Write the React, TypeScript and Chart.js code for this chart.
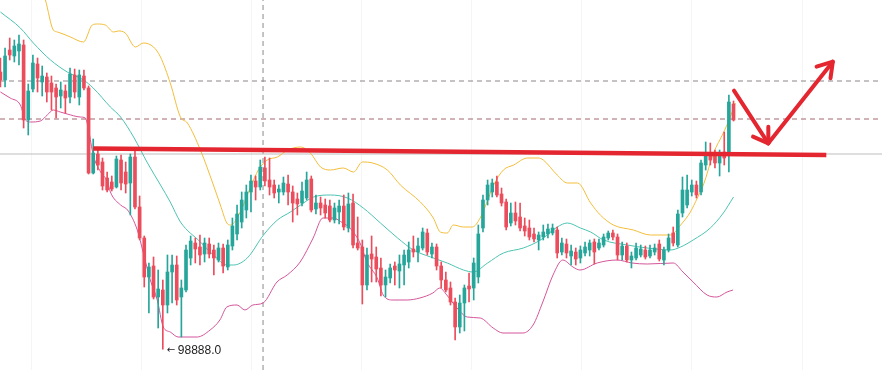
import React, { useEffect, useRef } from "react";
import { Chart, registerables } from "chart.js";

Chart.register(...registerables);

// ---- candle data (index = bar number) ----
const candleOpen = [101660,101580,101880,101820,101870,101930,101180,101490,101740,101560,
101610,101550,101500,101420,101470,101410,101630,101410,101620,101500,
100650,100840,100760,100600,100560,100510,100780,100660,100550,100810,
100310,100000,99610,99720,99410,99480,99330,99660,99730,99410,
99480,99800,99950,99910,99840,99940,99880,99780,99900,99710,
99920,100040,100160,100280,100460,100570,100510,100700,100580,100530,
100460,100460,100540,100460,100390,100350,100400,100590,100290,100350,
100330,100320,100180,100260,100320,100100,100350,99950,99910,99530,
99840,99810,99700,99530,99600,99720,99670,99730,99760,99890,
99860,99900,100050,99840,99910,99720,99580,99500,99360,99110,
99350,99520,99500,99610,100100,100380,100460,100560,100440,100360,
100150,100250,100210,100120,100100,100040,99980,100010,100040,100050,
100080,99860,99940,99820,99860,99800,99850,99880,99960,99900,
99930,100000,100050,100010,99830,99920,99780,99800,99830,99880,
99820,99860,99940,99780,99880,100050,99930,100250,100330,100460,
100530,100460,100730,100850,100820,100750,100860,100850,101340];

const candleClose = [101580,101820,101830,101920,101940,101180,101470,101750,101600,101620,
101460,101460,101410,101480,101400,101640,101460,101630,101500,100650,
100850,100730,100520,100480,100490,100790,100550,100540,100810,100310,
100000,99610,99710,99410,99490,99330,99660,99730,99380,99500,
99880,99970,99890,99830,99950,99840,99800,99900,99720,99930,
100120,100240,100380,100460,100570,100510,100710,100570,100510,100450,
100490,100550,100460,100350,100340,100470,100580,100280,100350,100300,
100250,100180,100300,100320,100110,100340,99930,99900,99530,99830,
99790,99690,99530,99610,99700,99680,99740,99830,99880,99860,
99920,100060,99860,99910,99720,99580,99480,99360,99110,99350,
99500,99490,99750,100040,100380,100530,100550,100430,100350,100110,
100250,100170,100100,100070,100010,99990,100030,100060,100090,100100,
99850,99950,99850,99870,99790,99880,99910,99950,99860,99950,
100010,100050,100010,99830,99920,99780,99820,99900,99890,99810,
99880,99900,99790,99880,100000,99950,100240,100480,100480,100530,
100430,100750,100830,100780,100750,100830,100800,101360,101180];

const candleHigh = [101800,101900,102000,101980,102030,101980,101540,101830,101800,101720,
101650,101620,101540,101560,101530,101700,101690,101680,101680,101520,
100990,100900,100800,100660,100620,100820,100830,100760,100840,100870,
100420,100020,99750,99810,99680,99580,99830,99830,99820,99580,
99930,100020,100000,100030,100000,100000,99930,99950,99940,99980,
100200,100330,100460,100530,100630,100620,100780,100810,100800,100580,
100530,100610,100630,100520,100450,100560,100660,100620,100430,100410,
100390,100380,100350,100380,100430,100450,100440,100210,99980,99900,
100020,99910,99800,99680,99740,99760,99830,99880,99960,100020,
100000,100100,100090,99950,99940,99760,99660,99560,99400,99430,
99530,99650,99800,100130,100430,100580,100590,100620,100500,100390,
100350,100360,100350,100200,100180,100100,100060,100130,100140,100140,
100110,100000,99990,99930,99900,99920,99960,99980,99990,99990,
100040,100070,100080,100040,99960,99950,99860,99950,99930,99920,
99930,99940,99980,99910,100040,100110,100280,100610,100630,100580,
100570,100780,100960,100950,100880,100880,101060,101430,101370];

const candleLow = [101510,101510,101780,101760,101730,101100,101030,101460,101460,101420,
101360,101280,101200,101300,101250,101350,101400,101330,101480,100640,
100640,100680,100480,100460,100470,100500,100480,100450,100230,100290,
99980,99510,99250,99390,99100,98888,99250,99350,99330,99010,
99460,99730,99750,99730,99760,99800,99630,99760,99650,99680,
99880,99980,100100,100200,100260,100380,100480,100520,100430,100400,
100350,100430,100330,100160,100230,100320,100380,100260,100240,100230,
100200,100160,100150,100140,100080,100060,99900,99880,99340,99480,
99560,99560,99420,99410,99550,99530,99500,99530,99700,99810,
99760,99880,99830,99800,99680,99500,99460,99330,98980,99050,
99070,99360,99380,99550,100060,100330,100410,100410,100320,100080,
100120,100130,100070,100020,99980,99960,99880,99980,100000,100030,
99800,99830,99800,99730,99730,99750,99820,99820,99740,99880,
99910,99980,99980,99780,99780,99760,99700,99780,99810,99790,
99800,99830,99770,99730,99860,99920,99910,100210,100300,100420,
100400,100430,100680,100730,100700,100620,100730,100660,101170];

// ---- Bollinger bands (position in bar units, value) ----
const upperBandX = [8.6,9.7,11.4,12.3,15.1,17.9,19.8,20.9,22.6,24.4,25.4,26.9,29.1,30.8,33.0,34.5,36.6,38.8,40.3,43.1,
45.9,47.4,48.8,49.6,51.7,53.9,55.6,57.5,59.7,61.9,64.7,66.8,69.0,71.1,73.9,76.1,78.0,80.2,83.4,86.2,
90.5,93.3,94.8,96.3,97.6,99.8,101.7,103.4,105.2,106.3,108.4,110.6,113.6,115.9,117.0,120.0,122.2,124.4,127.2,129.3,
132.1,136.4,140.1,144.4,146.6,148.7,150.2,151.5,153.7,155.8,157.3,158.4];
const upperBandVal = [102530,102380,102080,102060,102010,101960,102130,102140,102130,102060,102070,102050,101910,101950,101910,101810,101550,101210,101150,100880,
100530,100330,100150,100130,100260,100510,100680,100780,100810,100880,100910,100850,100710,100680,100700,100660,100760,100750,100680,100530,
100360,100200,100060,100050,100130,100110,100110,100200,100400,100530,100680,100730,100800,100800,100780,100630,100550,100550,100350,100230,
100130,100080,100030,100030,100130,100260,100400,100530,100850,101050,101210,101350];

const middleBandX = [0,4.3,7.1,10.8,14.4,17.9,20.0,23.7,25.9,28.7,31.7,34.5,36.6,38.8,43.1,45.9,48.9,50.2,53.2,56.7,
59.7,62.5,64.7,67.5,71.1,74.8,78.2,81.9,85.6,89.0,92.7,96.3,99.8,101.9,105.0,108.4,112.7,116.4,120.0,122.2,
125.0,127.2,130.0,135.1,139.4,144.4,146.6,149.3,153.0,155.8,158.0];
const middleBandVal = [102260,102100,101950,101780,101660,101580,101500,101310,101210,101010,100750,100530,100360,100160,99960,99830,99730,99730,99800,100030,
100180,100260,100330,100410,100430,100400,100300,100150,100000,99880,99810,99750,99680,99660,99750,99850,99900,99980,100110,100150,
100100,100060,99980,99930,99900,99880,99910,99980,100100,100250,100410];

const lowerBandX = [0,2.1,4.3,5.4,6.5,8.6,10.1,11.4,12.9,14.4,17.2,18.3,19.0,20.0,21.6,23.1,23.7,25.9,27.4,29.5,
30.8,32.3,33.8,35.1,36.6,38.3,42.4,45.2,47.3,48.8,51.0,52.7,54.4,56.6,59.6,61.8,64.6,67.4,69.5,71.7,
73.8,75.3,77.5,79.0,81.2,82.5,84.6,87.6,90.4,93.2,94.7,96.2,98.4,100.6,103.4,106.2,108.3,112.6,114.8,116.9,
119.1,121.2,123.4,124.9,128.6,132.9,136.1,139.4,145.0,147.1,149.3,152.3,154.4,156.6,157.9];
const lowerBandVal = [101460,101400,101330,101180,101160,101170,101230,101280,101260,101240,101210,101200,101080,100830,100660,100560,100460,100330,100280,100080,
99850,99580,99380,99110,99060,99010,99010,99080,99180,99310,99330,99280,99330,99350,99560,99630,99760,100000,100200,100200,
100150,100100,99950,99760,99600,99430,99380,99380,99400,99450,99500,99430,99300,99210,99200,99100,99050,99050,99130,99360,
99630,99780,99710,99680,99750,99780,99750,99740,99750,99660,99560,99430,99410,99460,99480];

// ---- reference levels and drawings ----
const dashedLevels = [101570, 101190];
const solidLevel = 100840;
const verticalMarkerX = 56.6;
const gridLinesX = [6.8, 30.5, 54.2, 77.9, 101.6, 125.3, 149.0, 172.8];
const resistanceLine = [[20.0, 100895], [178.0, 100830]];
const arrowPaths = [
  [[158.1, 101473], [165.5, 100947]],
  [[162.2, 101013], [165.5, 100947], [165.5, 101113]],
  [[165.5, 100947], [179.4, 101763]],
  [[175.9, 101713], [179.4, 101763], [178.9, 101597]],
];

const X_MIN = -0.09;
const X_MAX = 190.0;
const Y_MIN = 98680;
const Y_MAX = 102380;

const GREEN = "#26a69a";
const RED = "#eb4d5c";

export default function App() {
  const ref = useRef<HTMLCanvasElement>(null);

  useEffect(() => {
    const canvas = ref.current;
    if (!canvas) return;
    const idx = candleOpen.map((_, i) => i);
    const colors = idx.map((i) => (candleClose[i] >= candleOpen[i] ? GREEN : RED));

    const toPts = (xs: number[], ys: number[]) => xs.map((x, i) => ({ x, y: ys[i] }));

    const lowLabel = {
      id: "lowLabel",
      afterDatasetsDraw(chart: any) {
        let mi = 0;
        candleLow.forEach((v, i) => {
          if (v < candleLow[mi]) mi = i;
        });
        const x = chart.scales.x.getPixelForValue(mi);
        const y = chart.scales.y.getPixelForValue(candleLow[mi]);
        const c = chart.ctx;
        c.save();
        c.fillStyle = "#222";
        c.textAlign = "left";
        c.textBaseline = "middle";
        c.font = '10px "DejaVu Sans", sans-serif';
        c.fillText("\u2190", x + 4, y + 1);
        c.font = '12px "Liberation Sans", Arial, sans-serif';
        c.fillText(candleLow[mi].toFixed(1), x + 15, y + 1);
        c.restore();
      },
    };

    const lineBase = {
      type: "line" as const,
      pointRadius: 0,
      fill: false,
      borderWidth: 1,
    };

    const datasets: any[] = [];

    arrowPaths.forEach((p) => {
      datasets.push({
        ...lineBase,
        data: p.map(([x, y]) => ({ x, y })),
        borderColor: "#e3262f",
        borderWidth: 4,
        borderCapStyle: "round",
        borderJoinStyle: "round",
        order: 0,
      });
    });
    datasets.push({
      ...lineBase,
      data: resistanceLine.map(([x, y]) => ({ x, y })),
      borderColor: "#e3262f",
      borderWidth: 4.5,
      order: 0,
    });
    datasets.push({
      type: "bar",
      data: idx.map((i) => ({ x: i, y: [candleOpen[i], candleClose[i]] })),
      backgroundColor: colors,
      borderWidth: 0,
      barThickness: 3,
      minBarLength: 1,
      grouped: false,
      order: 1,
    });
    datasets.push({
      type: "bar",
      data: idx.map((i) => ({ x: i, y: [candleLow[i], candleHigh[i]] })),
      backgroundColor: colors,
      borderWidth: 0,
      barThickness: 1,
      grouped: false,
      order: 2,
    });
    datasets.push({
      ...lineBase,
      data: toPts(upperBandX, upperBandVal),
      borderColor: "#f3bd3a",
      cubicInterpolationMode: "monotone",
      order: 3,
    });
    datasets.push({
      ...lineBase,
      data: toPts(middleBandX, middleBandVal),
      borderColor: "#4cc3b2",
      cubicInterpolationMode: "monotone",
      order: 3,
    });
    datasets.push({
      ...lineBase,
      data: toPts(lowerBandX, lowerBandVal),
      borderColor: "#d4559a",
      cubicInterpolationMode: "monotone",
      order: 3,
    });
    dashedLevels.forEach((lv, i) => {
      datasets.push({
        ...lineBase,
        data: [
          { x: X_MIN, y: lv },
          { x: X_MAX, y: lv },
        ],
        borderColor: i === 0 ? "#8e8488" : "#a2646e",
        borderDash: [5, 4],
        order: 4,
      });
    });
    datasets.push({
      ...lineBase,
      data: [
        { x: X_MIN, y: solidLevel },
        { x: X_MAX, y: solidLevel },
      ],
      borderColor: "#bdbdbd",
      order: 4,
    });
    datasets.push({
      ...lineBase,
      data: [
        { x: verticalMarkerX, y: Y_MIN },
        { x: verticalMarkerX, y: Y_MAX },
      ],
      borderColor: "#8a8a8a",
      borderDash: [5, 4],
      order: 4,
    });

    const chart = new Chart(canvas, {
      type: "bar",
      data: { datasets },
      options: {
        animation: false,
        responsive: false,
        devicePixelRatio: 1,
        layout: { padding: 0 },
        plugins: {
          legend: { display: false },
          tooltip: { enabled: false },
        },
        scales: {
          x: {
            type: "linear",
            min: X_MIN,
            max: X_MAX,
            offset: false,
            display: true,
            grid: { color: "#f5f5f5", drawTicks: false, offset: false },
            border: { display: false },
            ticks: { display: false },
            afterBuildTicks: (s: any) => {
              s.ticks = gridLinesX.map((v) => ({ value: v }));
            },
          },
          y: {
            type: "linear",
            min: Y_MIN,
            max: Y_MAX,
            display: false,
          },
        },
      } as any,
      plugins: [lowLabel],
    });
    return () => chart.destroy();
  }, []);

  return (
    <div
      style={{
        position: "fixed",
        left: 0,
        top: 0,
        width: 882,
        height: 370,
        background: "#fff",
      }}
    >
      <canvas ref={ref} width={882} height={370} style={{ display: "block" }} />
    </div>
  );
}
